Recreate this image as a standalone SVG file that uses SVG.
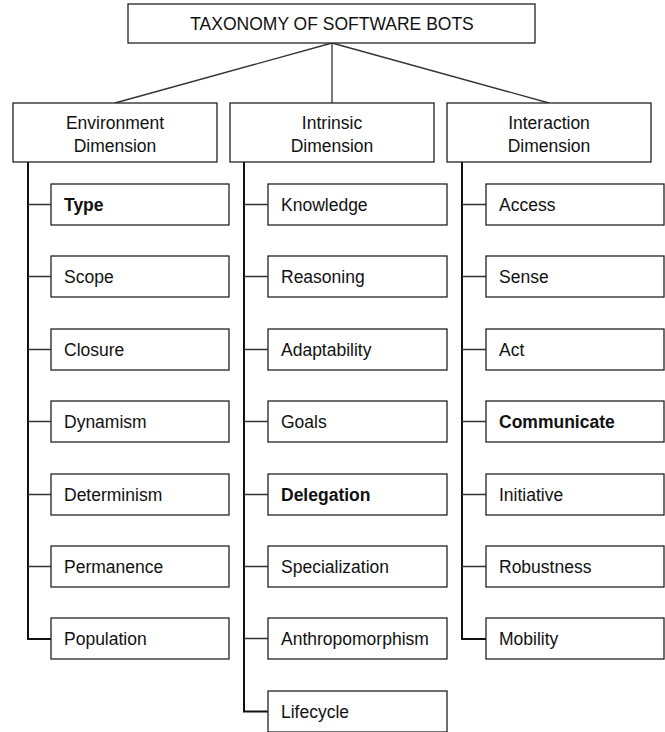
<svg xmlns="http://www.w3.org/2000/svg" width="665" height="732" viewBox="0 0 665 732">
<style>
.box{fill:#fff;stroke:#222;stroke-width:1.3}
.t{font-family:"Liberation Sans",Arial,sans-serif;font-size:17.5px;fill:#111}
.c{text-anchor:middle}
.b{font-weight:bold}
.rail{stroke:#111;stroke-width:2;fill:none}
.br{stroke:#333;stroke-width:1.3;fill:none}
</style>
<g id="connectors">
<line class="br" x1="332" y1="43" x2="115" y2="103"/>
<line class="br" x1="332" y1="43" x2="332" y2="103"/>
<line class="br" x1="332" y1="43" x2="549" y2="103"/>
<path class="rail" d="M28 162 V639 H51"/>
<path class="br" d="M28 204.5 H51 M28 276.5 H51 M28 349.5 H51 M28 421.5 H51 M28 494.5 H51 M28 566.5 H51"/>
<path class="rail" d="M244 162 V711.5 H268"/>
<path class="br" d="M244 204.5 H268 M244 276.5 H268 M244 349.5 H268 M244 421.5 H268 M244 494.5 H268 M244 566.5 H268 M244 638.5 H268"/>
<path class="rail" d="M462 162 V639 H486"/>
<path class="br" d="M462 204.5 H486 M462 276.5 H486 M462 349.5 H486 M462 421.5 H486 M462 494.5 H486 M462 566.5 H486"/>
</g>
<g id="root"><rect class="box" x="128" y="4" width="407" height="39"/><text class="t c" x="332" y="30">TAXONOMY OF SOFTWARE BOTS</text></g>
<g id="env"><rect class="box" x="13" y="103" width="204" height="59"/><text class="t c" x="115" y="129">Environment</text><text class="t c" x="115" y="152">Dimension</text></g>
<g id="intr"><rect class="box" x="230" y="103" width="204" height="59"/><text class="t c" x="332" y="129">Intrinsic</text><text class="t c" x="332" y="152">Dimension</text></g>
<g id="inter"><rect class="box" x="447" y="103" width="204" height="59"/><text class="t c" x="549" y="129">Interaction</text><text class="t c" x="549" y="152">Dimension</text></g>

<g id="type"><rect class="box" x="51" y="184" width="178" height="41"/><text class="t b" x="64" y="211">Type</text></g>
<g id="scope"><rect class="box" x="51" y="256" width="178" height="41"/><text class="t" x="64" y="283">Scope</text></g>
<g id="closure"><rect class="box" x="51" y="329" width="178" height="41"/><text class="t" x="64" y="356">Closure</text></g>
<g id="dynamism"><rect class="box" x="51" y="401" width="178" height="41"/><text class="t" x="64" y="428">Dynamism</text></g>
<g id="determinism"><rect class="box" x="51" y="474" width="178" height="41"/><text class="t" x="64" y="501">Determinism</text></g>
<g id="permanence"><rect class="box" x="51" y="546" width="178" height="41"/><text class="t" x="64" y="573">Permanence</text></g>
<g id="population"><rect class="box" x="51" y="618" width="178" height="41"/><text class="t" x="64" y="645">Population</text></g>

<g id="knowledge"><rect class="box" x="268" y="184" width="179" height="41"/><text class="t" x="281" y="211">Knowledge</text></g>
<g id="reasoning"><rect class="box" x="268" y="256" width="179" height="41"/><text class="t" x="281" y="283">Reasoning</text></g>
<g id="adaptability"><rect class="box" x="268" y="329" width="179" height="41"/><text class="t" x="281" y="356">Adaptability</text></g>
<g id="goals"><rect class="box" x="268" y="401" width="179" height="41"/><text class="t" x="281" y="428">Goals</text></g>
<g id="delegation"><rect class="box" x="268" y="474" width="179" height="41"/><text class="t b" x="281" y="501">Delegation</text></g>
<g id="specialization"><rect class="box" x="268" y="546" width="179" height="41"/><text class="t" x="281" y="573">Specialization</text></g>
<g id="anthropomorphism"><rect class="box" x="268" y="618" width="179" height="41"/><text class="t" x="281" y="645">Anthropomorphism</text></g>
<g id="lifecycle"><rect class="box" x="268" y="691" width="179" height="41"/><text class="t" x="281" y="718">Lifecycle</text></g>

<g id="access"><rect class="box" x="486" y="184" width="178" height="41"/><text class="t" x="499" y="211">Access</text></g>
<g id="sense"><rect class="box" x="486" y="256" width="178" height="41"/><text class="t" x="499" y="283">Sense</text></g>
<g id="act"><rect class="box" x="486" y="329" width="178" height="41"/><text class="t" x="499" y="356">Act</text></g>
<g id="communicate"><rect class="box" x="486" y="401" width="178" height="41"/><text class="t b" x="499" y="428">Communicate</text></g>
<g id="initiative"><rect class="box" x="486" y="474" width="178" height="41"/><text class="t" x="499" y="501">Initiative</text></g>
<g id="robustness"><rect class="box" x="486" y="546" width="178" height="41"/><text class="t" x="499" y="573">Robustness</text></g>
<g id="mobility"><rect class="box" x="486" y="618" width="178" height="41"/><text class="t" x="499" y="645">Mobility</text></g>
</svg>
